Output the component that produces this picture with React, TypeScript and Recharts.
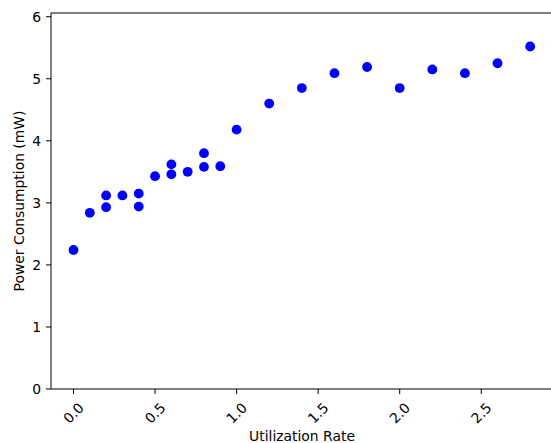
import React from 'react';
import { ScatterChart, Scatter, XAxis, YAxis } from 'recharts';

const utilization = [0.0, 0.1, 0.2, 0.2, 0.3, 0.4, 0.4, 0.5, 0.6, 0.6, 0.7, 0.8, 0.8, 0.9, 1.0, 1.2, 1.4, 1.6, 1.8, 2.0, 2.2, 2.4, 2.6, 2.8];
const power = [2.24, 2.84, 3.12, 2.93, 3.12, 3.15, 2.94, 3.43, 3.62, 3.46, 3.5, 3.8, 3.58, 3.59, 4.18, 4.6, 4.85, 5.09, 5.19, 4.85, 5.15, 5.09, 5.25, 5.52];
const xTicks = [0, 0.5, 1.0, 1.5, 2.0, 2.5];
const yTicks = [0, 1, 2, 3, 4, 5, 6];

const data = utilization.map((u, i) => ({ x: u, y: power[i] }));

const FONT = 13.9;

const XTick = (props: any) => {
  const { x, y, payload } = props;
  const cy = y + 17;
  return (
    <text
      x={x}
      y={cy}
      transform={`rotate(-45 ${x} ${cy})`}
      textAnchor="middle"
      dominantBaseline="central"
      fontSize={FONT}
      fill="#000"
    >
      {Number(payload.value).toFixed(1)}
    </text>
  );
};

const Dot = (props: any) => <circle cx={props.cx} cy={props.cy} r={4.9} fill="#0000ff" />;

export default function App() {
  return (
    <div style={{ position: 'absolute', left: 0, top: 0, width: 551, height: 443, overflow: 'hidden', background: '#fff', fontFamily: '"DejaVu Sans", sans-serif' }}>
      <ScatterChart width={600} height={443} margin={{ top: 12, right: 47, left: 0, bottom: 0 }} style={{ outline: 'none' }}>
        <XAxis
          dataKey="x"
          type="number"
          domain={[-0.138, 2.94]}
          allowDataOverflow
          ticks={xTicks}
          tick={<XTick />}
          tickSize={5}
          tickMargin={2}
          height={54}
          interval={0}
          axisLine={{ stroke: '#000', strokeWidth: 1 }}
          tickLine={{ stroke: '#000', strokeWidth: 1 }}
          label={{ value: 'Utilization Rate', position: 'insideBottom', offset: 2, fill: '#000', fontSize: FONT }}
        />
        <XAxis
          xAxisId="top"
          orientation="top"
          type="number"
          domain={[-0.138, 2.94]}
          allowDataOverflow
          height={1}
          tick={false}
          tickLine={false}
          axisLine={{ stroke: '#000', strokeWidth: 1 }}
        />
        <YAxis
          dataKey="y"
          type="number"
          domain={[0, 6.06]}
          allowDataOverflow
          ticks={yTicks}
          interval={0}
          width={51}
          tickSize={5}
          tickMargin={5}
          tick={{ fill: '#000', fontSize: FONT }}
          axisLine={{ stroke: '#000', strokeWidth: 1 }}
          tickLine={{ stroke: '#000', strokeWidth: 1 }}
          label={{
            content: (p: any) => {
              const vb = p.viewBox || { x: 0, y: 13, width: 51, height: 376 };
              const cx = vb.x + 19;
              const cy = vb.y + vb.height / 2;
              return (
                <text x={cx} y={cy} transform={`rotate(-90 ${cx} ${cy})`} textAnchor="middle" dominantBaseline="central" fontSize={FONT} fill="#000">
                  Power Consumption (mW)
                </text>
              );
            },
          }}
        />
        <Scatter data={data} shape={<Dot />} isAnimationActive={false} />
      </ScatterChart>
    </div>
  );
}
